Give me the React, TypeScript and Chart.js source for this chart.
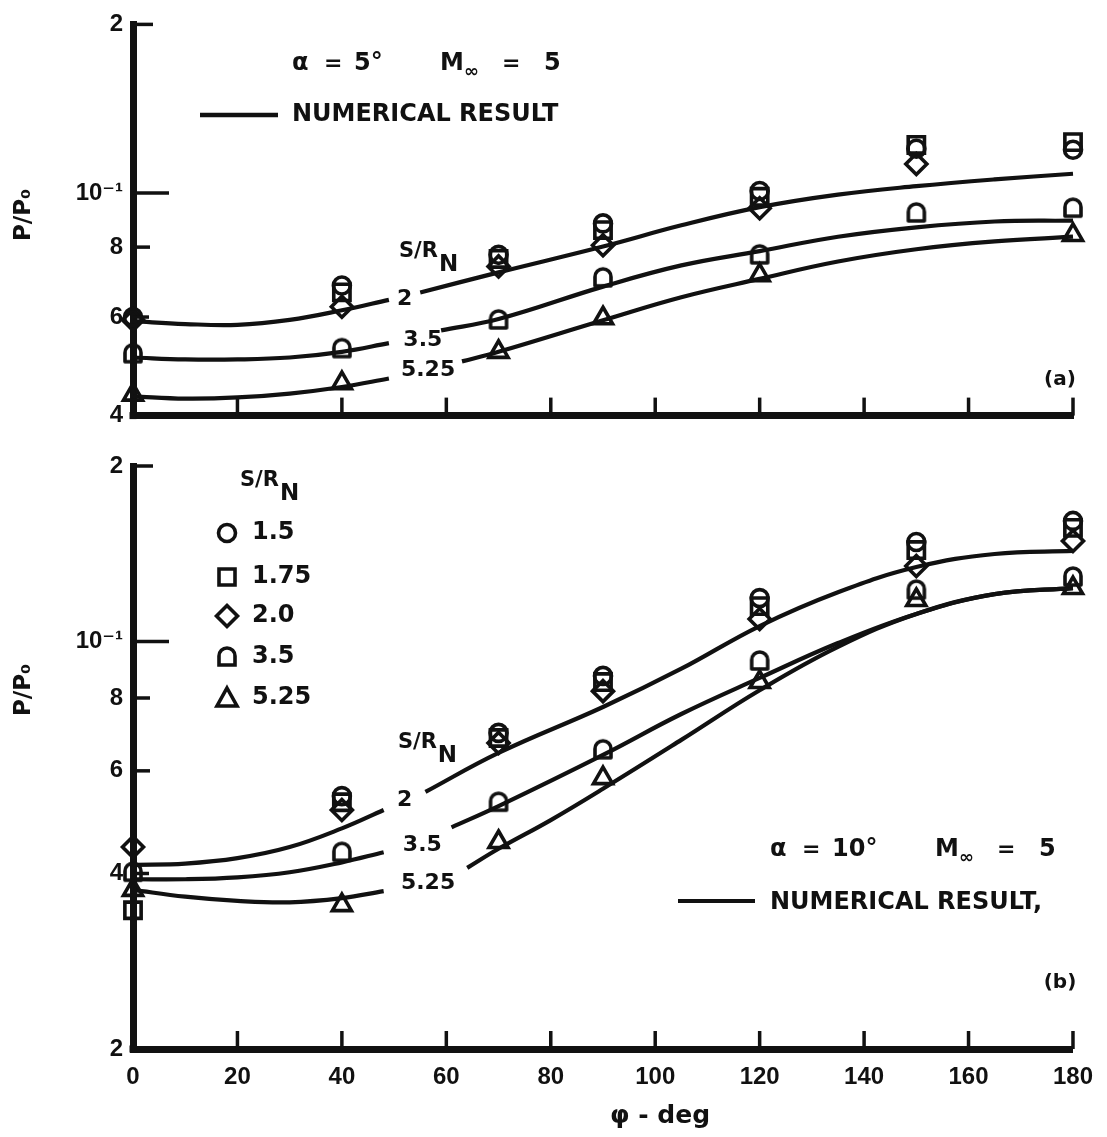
import React, { useEffect, useRef } from 'react';
import { Chart, registerables } from 'chart.js';

Chart.register(...registerables);

const INK = '#111111';
const SANS = '"DejaVu Sans", "Liberation Sans", sans-serif';
const NUM = '"Liberation Sans", "DejaVu Sans", sans-serif';

// Common data
const PHI = [0, 40, 70, 90, 120, 150, 180];
const X_TICKS = [0, 20, 40, 60, 80, 100, 120, 140, 160, 180];
const SERIES_LABELS = ['1.5', '1.75', '2.0', '3.5', '5.25'];
const SERIES_STYLES = ['circle', 'rect', 'rectRot', 'arch', 'triangle'];

// Panel (a): alpha = 5 deg
const A_Y_TICKS = [0.04, 0.06, 0.08, 0.1, 0.2];
const A_Y_LABELS = ['4', '6', '8', '10⁻¹', '2'];
const A_CIRCLE = [0.06, 0.0683, 0.0775, 0.0882, 0.1008, 0.1199, 0.1194];
const A_SQUARE = [null, 0.0664, 0.0762, 0.0858, 0.0984, 0.1218, 0.1232];
const A_DIAMOND = [0.0593, 0.0626, 0.0739, 0.0806, 0.0939, 0.1126, null];
const A_ARCH = [0.0516, 0.0527, 0.0593, 0.0705, 0.0775, 0.0921, 0.0939];
const A_TRIANGLE = [0.0436, 0.0457, 0.052, 0.0597, 0.0713, null, 0.0841];

const A_C2_PHI = [0, 10, 20, 30, 40, 49, 52, 55, 70, 90, 105, 120, 135, 150, 165, 180];
const A_C2_VAL = [0.059, 0.0583, 0.0581, 0.0593, 0.0617, 0.0644, null, 0.0664, 0.0721, 0.0802, 0.0875, 0.0943, 0.0993, 0.1028, 0.1057, 0.1082];
const A_C35_PHI = [0, 10, 20, 30, 40, 49, 54, 59, 70, 90, 105, 120, 135, 150, 165, 180];
const A_C35_VAL = [0.0508, 0.0504, 0.0504, 0.0508, 0.052, 0.0539, null, 0.0568, 0.0595, 0.068, 0.0742, 0.0787, 0.0835, 0.0868, 0.0889, 0.0892];
const A_C525_PHI = [0, 10, 20, 30, 40, 49, 56, 63, 70, 90, 105, 120, 135, 150, 165, 180];
const A_C525_VAL = [0.0433, 0.0429, 0.0431, 0.0438, 0.045, 0.0466, null, 0.05, 0.052, 0.0592, 0.0651, 0.0702, 0.0754, 0.0793, 0.0819, 0.0835];

const A_TAG_TEXT = ['S/RN', '2', '3.5', '5.25'];
const A_TAG_PHI = [56.5, 52, 55.5, 56.5];
const A_TAG_VAL = [0.0772, 0.0646, 0.0546, 0.0481];

// Panel (b): alpha = 10 deg
const B_Y_TICKS = [0.02, 0.04, 0.06, 0.08, 0.1, 0.2];
const B_Y_LABELS = ['2', '4', '6', '8', '10⁻¹', '2'];
const B_CIRCLE = [null, 0.0543, 0.0697, 0.0873, 0.1187, 0.1481, 0.161];
const B_SQUARE = [0.0346, 0.053, 0.0683, 0.0852, 0.115, 0.1435, 0.1566];
const B_DIAMOND = [0.0444, 0.0514, 0.067, 0.0822, 0.1093, 0.1347, 0.1487];
const B_ARCH = [0.0402, 0.0435, 0.053, 0.0652, 0.0926, 0.1225, 0.129];
const B_TRIANGLE = [0.0375, 0.0353, 0.0453, 0.0583, 0.0852, 0.1178, 0.1235];

const B_C2_PHI = [0, 10, 20, 30, 40, 48, 52, 56, 70, 90, 105, 120, 135, 150, 165, 180];
const B_C2_VAL = [0.0414, 0.0416, 0.0425, 0.0444, 0.0478, 0.0514, null, 0.0552, 0.0644, 0.0772, 0.0898, 0.1063, 0.1215, 0.1342, 0.1413, 0.143];
const B_C35_PHI = [0, 10, 20, 30, 40, 48, 55, 61, 70, 90, 105, 120, 135, 150, 165, 180];
const B_C35_VAL = [0.0391, 0.0391, 0.0394, 0.0402, 0.0418, 0.0435, null, 0.048, 0.0522, 0.0639, 0.0751, 0.0866, 0.0994, 0.1115, 0.1206, 0.1235];
const B_C525_PHI = [0, 10, 20, 30, 40, 48, 56, 64, 70, 80, 90, 105, 120, 135, 150, 165, 180];
const B_C525_VAL = [0.0375, 0.0365, 0.0359, 0.0357, 0.0363, 0.0373, null, 0.0409, 0.0441, 0.0494, 0.0559, 0.0678, 0.0825, 0.0979, 0.1115, 0.1206, 0.1235];

const B_TAG_TEXT = ['S/RN', '2', '3.5', '5.25'];
const B_TAG_PHI = [56.3, 52, 55.4, 56.5];
const B_TAG_VAL = [0.066, 0.0535, 0.0448, 0.0385];

type Panel = {
  key: string;
  canvasTop: number;
  canvasHeight: number;
  padTop: number;
  xAxisHeight: number;
  yMin: number;
  yTicks: number[];
  yLabels: string[];
  yTickLen: number[];
  showXLabels: boolean;
  markers: (number | null)[][];
  curves: { phi: number[]; val: (number | null)[] }[];
  tagText: string[];
  tagPhi: number[];
  tagVal: number[];
};

const PANEL_A: Panel = {
  key: 'a',
  canvasTop: 0,
  canvasHeight: 440,
  padTop: 18,
  xAxisHeight: 13,
  yMin: 0.04,
  yTicks: A_Y_TICKS,
  yLabels: A_Y_LABELS,
  yTickLen: [0, 16, 17, 36, 20],
  showXLabels: false,
  markers: [A_CIRCLE, A_SQUARE, A_DIAMOND, A_ARCH, A_TRIANGLE],
  curves: [
    { phi: A_C2_PHI, val: A_C2_VAL },
    { phi: A_C35_PHI, val: A_C35_VAL },
    { phi: A_C525_PHI, val: A_C525_VAL },
  ],
  tagText: A_TAG_TEXT,
  tagPhi: A_TAG_PHI,
  tagVal: A_TAG_VAL,
};

const PANEL_B: Panel = {
  key: 'b',
  canvasTop: 440,
  canvasHeight: 697,
  padTop: 26,
  xAxisHeight: 88,
  yMin: 0.02,
  yTicks: B_Y_TICKS,
  yLabels: B_Y_LABELS,
  yTickLen: [0, 16, 17, 17, 36, 20],
  showXLabels: true,
  markers: [B_CIRCLE, B_SQUARE, B_DIAMOND, B_ARCH, B_TRIANGLE],
  curves: [
    { phi: B_C2_PHI, val: B_C2_VAL },
    { phi: B_C35_PHI, val: B_C35_VAL },
    { phi: B_C525_PHI, val: B_C525_VAL },
  ],
  tagText: B_TAG_TEXT,
  tagPhi: B_TAG_PHI,
  tagVal: B_TAG_VAL,
};

function makeArch(): HTMLCanvasElement {
  const c = document.createElement('canvas');
  c.width = 26;
  c.height = 26;
  const g = c.getContext('2d')!;
  g.strokeStyle = INK;
  g.lineWidth = 3.6;
  g.lineJoin = 'round';
  g.beginPath();
  g.moveTo(5, 21);
  g.lineTo(5, 12);
  g.arc(13, 12, 8, Math.PI, 0);
  g.lineTo(21, 21);
  g.closePath();
  g.stroke();
  return c;
}

const RADII: Record<string, number> = { circle: 8.5, rect: 11.5, rectRot: 10.5, arch: 10, triangle: 11 };

function drawSymbol(ctx: CanvasRenderingContext2D, kind: string, x: number, y: number) {
  ctx.save();
  ctx.strokeStyle = INK;
  ctx.lineWidth = 3.6;
  ctx.lineJoin = 'miter';
  ctx.beginPath();
  if (kind === 'circle') {
    ctx.arc(x, y, 8.5, 0, Math.PI * 2);
  } else if (kind === 'rect') {
    ctx.rect(x - 8, y - 8, 16, 16);
  } else if (kind === 'rectRot') {
    ctx.moveTo(x - 10.5, y);
    ctx.lineTo(x, y - 10.5);
    ctx.lineTo(x + 10.5, y);
    ctx.lineTo(x, y + 10.5);
    ctx.closePath();
  } else if (kind === 'arch') {
    ctx.moveTo(x - 8, y + 8);
    ctx.lineTo(x - 8, y - 1);
    ctx.arc(x, y - 1, 8, Math.PI, 0);
    ctx.lineTo(x + 8, y + 8);
    ctx.closePath();
  } else {
    ctx.moveTo(x, y - 10);
    ctx.lineTo(x + 10, y + 8);
    ctx.lineTo(x - 10, y + 8);
    ctx.closePath();
  }
  ctx.stroke();
  ctx.restore();
}

function text(
  ctx: CanvasRenderingContext2D,
  s: string,
  x: number,
  y: number,
  size: number,
  align: CanvasTextAlign = 'left',
  family: string = SANS
): number {
  ctx.font = `bold ${size}px ${family}`;
  ctx.textAlign = align;
  ctx.textBaseline = 'middle';
  ctx.fillStyle = INK;
  ctx.fillText(s, x, y);
  return ctx.measureText(s).width;
}

function srn(ctx: CanvasRenderingContext2D, x: number, y: number, align: 'left' | 'center') {
  ctx.font = `bold 21px ${SANS}`;
  const w1 = ctx.measureText('S/R').width;
  ctx.font = `bold 23px ${SANS}`;
  const w2 = ctx.measureText('N').width;
  const start = align === 'center' ? x - (w1 + w2) / 2 : x;
  text(ctx, 'S/R', start, y - 4, 21);
  text(ctx, 'N', start + w1 + 1, y + 9, 23);
}

function hline(ctx: CanvasRenderingContext2D, x1: number, x2: number, y: number, w: number) {
  ctx.save();
  ctx.strokeStyle = INK;
  ctx.lineWidth = w;
  ctx.beginPath();
  ctx.moveTo(x1, y);
  ctx.lineTo(x2, y);
  ctx.stroke();
  ctx.restore();
}

function machLabel(ctx: CanvasRenderingContext2D, alphaText: string, ax: number, mx: number, y: number) {
  text(ctx, 'α', ax, y, 24);
  text(ctx, '=', ax + 32, y, 22);
  text(ctx, alphaText, ax + 62, y, 24);
  text(ctx, 'M', mx, y, 24);
  text(ctx, '∞', mx + 24, y + 8, 18);
  text(ctx, '=', mx + 62, y, 22);
  text(ctx, '5', mx + 104, y, 24);
}

function buildConfig(panel: Panel): any {
  const arch = makeArch();
  const markerSets = panel.markers.map((vals, si) => {
    const style = SERIES_STYLES[si];
    const data = PHI.map((p, i) => ({ x: p, y: vals[i] })).filter((d) => d.y !== null);
    return {
      label: SERIES_LABELS[si],
      data,
      showLine: false,
      clip: false,
      pointStyle: style === 'arch' ? arch : style,
      pointRadius: RADII[style],
      pointHoverRadius: RADII[style],
      pointBorderWidth: 3.6,
      pointBorderColor: INK,
      pointBackgroundColor: 'rgba(0,0,0,0)',
    };
  });
  const curveSets = panel.curves.map((c, ci) => ({
    label: 'curve' + ci,
    data: c.phi.map((p, i) => ({ x: p, y: c.val[i] })),
    showLine: true,
    spanGaps: false,
    clip: 6,
    borderColor: INK,
    borderWidth: 4.2,
    tension: 0.4,
    pointRadius: 0,
    pointHoverRadius: 0,
    fill: false,
  }));

  const annot = {
    id: 'annot' + panel.key,
    afterDraw(chart: any) {
      const ctx: CanvasRenderingContext2D = chart.ctx;
      const ca = chart.chartArea;
      const xs = chart.scales.x;
      const ys = chart.scales.y;
      ctx.save();
      // inward tick marks
      ctx.strokeStyle = INK;
      ctx.lineWidth = 3.5;
      panel.yTicks.forEach((v, i) => {
        const len = panel.yTickLen[i];
        if (!len) return;
        const py = ys.getPixelForValue(v);
        ctx.beginPath();
        ctx.moveTo(ca.left, py);
        ctx.lineTo(ca.left + len, py);
        ctx.stroke();
      });
      X_TICKS.forEach((v) => {
        if (v === 0) return;
        const px = xs.getPixelForValue(v);
        ctx.beginPath();
        ctx.moveTo(px, ca.bottom);
        ctx.lineTo(px, ca.bottom - 18);
        ctx.stroke();
      });
      // corner fill
      ctx.fillStyle = INK;
      ctx.fillRect(ca.left - 3.5, ca.bottom - 3.5, 7, 7);

      // curve tags
      panel.tagText.forEach((t, i) => {
        const px = xs.getPixelForValue(panel.tagPhi[i]);
        const py = ys.getPixelForValue(panel.tagVal[i]);
        if (t === 'S/RN') srn(ctx, px, py, 'center');
        else text(ctx, t, px, py, 22, 'center');
      });

      // y-axis title
      ctx.save();
      const ty = panel.key === 'a' ? 215 : 250;
      ctx.translate(24, ty);
      ctx.rotate(-Math.PI / 2);
      text(ctx, 'P/P₀', 0, 0, 23, 'center');
      ctx.restore();

      if (panel.key === 'a') {
        machLabel(ctx, '5°', 292, 440, 64);
        hline(ctx, 200, 278, 115, 4.5);
        text(ctx, 'NUMERICAL RESULT', 292, 115, 24);
        text(ctx, '(a)', 1060, 380, 20, 'center');
      } else {
        machLabel(ctx, '10°', 770, 935, 410);
        hline(ctx, 678, 755, 461, 4);
        text(ctx, 'NUMERICAL RESULT,', 770, 463, 24);
        text(ctx, '(b)', 1060, 543, 20, 'center');
        // legend
        srn(ctx, 240, 45, 'left');
        const rows = [93, 137, 176, 217, 258];
        SERIES_LABELS.forEach((lab, i) => {
          drawSymbol(ctx, SERIES_STYLES[i], 227, rows[i]);
          text(ctx, lab, 252, rows[i], 24);
        });
        // x title
        text(ctx, 'φ - deg', 660, 676, 25, 'center');
      }
      ctx.restore();
    },
  };

  return {
    type: 'scatter',
    data: { datasets: [...markerSets, ...curveSets] },
    plugins: [annot],
    options: {
      animation: false,
      responsive: false,
      maintainAspectRatio: false,
      events: [],
      layout: { padding: { left: 0, right: 34, top: panel.padTop, bottom: 0 } },
      plugins: { legend: { display: false }, tooltip: { enabled: false } },
      scales: {
        x: {
          type: 'linear',
          min: 0,
          max: 180,
          afterBuildTicks: (s: any) => {
            s.ticks = X_TICKS.map((v) => ({ value: v }));
          },
          afterFit: (s: any) => {
            s.height = panel.xAxisHeight;
          },
          ticks: {
            display: panel.showXLabels,
            autoSkip: false,
            maxRotation: 0,
            padding: 14,
            color: INK,
            font: { family: NUM, size: 24, weight: 'bold' },
            callback: (v: any) => String(v),
          },
          grid: { display: false, drawTicks: false },
          border: { display: true, width: 7, color: INK },
        },
        y: {
          type: 'logarithmic',
          min: panel.yMin,
          max: 0.2,
          afterBuildTicks: (s: any) => {
            s.ticks = panel.yTicks.map((v) => ({ value: v }));
          },
          afterFit: (s: any) => {
            s.width = 133;
          },
          ticks: {
            autoSkip: false,
            padding: 10,
            color: INK,
            font: { family: NUM, size: 24, weight: 'bold' },
            callback: (_v: any, i: number) => panel.yLabels[i],
          },
          grid: { display: false, drawTicks: false },
          border: { display: true, width: 7, color: INK },
        },
      },
    },
  };
}

function PanelChart({ panel }: { panel: Panel }) {
  const ref = useRef<HTMLCanvasElement>(null);
  useEffect(() => {
    const chart = new Chart(ref.current as HTMLCanvasElement, buildConfig(panel));
    return () => chart.destroy();
  }, [panel]);
  return (
    <canvas
      ref={ref}
      width={1107}
      height={panel.canvasHeight}
      style={{
        position: 'absolute',
        left: 0,
        top: panel.canvasTop,
        width: 1107,
        height: panel.canvasHeight,
        display: 'block',
      }}
    />
  );
}

export default function App() {
  return (
    <div
      style={{
        position: 'absolute',
        left: 0,
        top: 0,
        width: 1107,
        height: 1137,
        background: '#ffffff',
        overflow: 'hidden',
      }}
    >
      <PanelChart panel={PANEL_A} />
      <PanelChart panel={PANEL_B} />
    </div>
  );
}
